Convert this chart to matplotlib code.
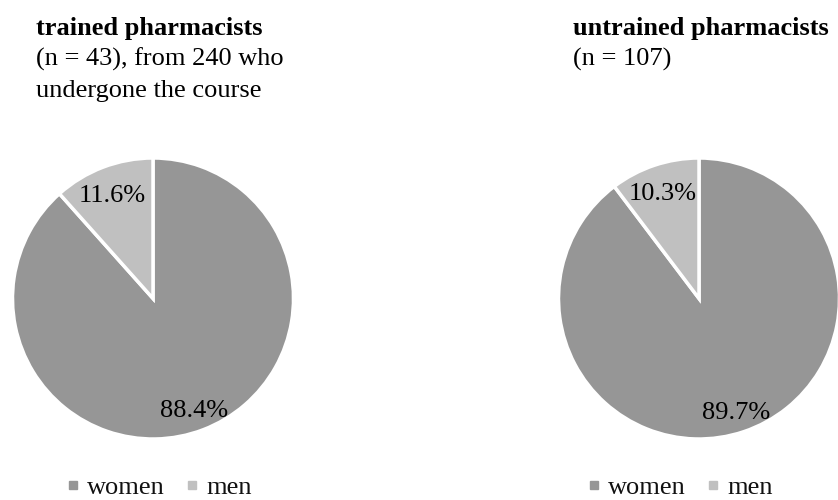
import matplotlib.pyplot as plt
from matplotlib.lines import Line2D

# data
categories = ["women", "men"]
trained_pct = [88.4, 11.6]
untrained_pct = [89.7, 10.3]
trained_title = "trained pharmacists"
trained_sub = ["(n = 43), from 240 who", "undergone the course"]
untrained_title = "untrained pharmacists"
untrained_sub = ["(n = 107)"]

colors = ["#969696", "#c0c0c0"]

W, H = 838, 500
plt.rcParams["font.family"] = ["Liberation Serif", "DejaVu Serif"]

fig = plt.figure(figsize=(W / 100, H / 100), dpi=100)


def px_axes(cx, cy, r):
    # axes box in pixel coordinates (origin top-left)
    return fig.add_axes([(cx - r) / W, 1 - (cy + r) / H, 2 * r / W, 2 * r / H])


def draw_pie(ax, values):
    wedges, _, autotexts = ax.pie(
        values, colors=colors, startangle=90, counterclock=False,
        autopct="%.1f%%", pctdistance=0.82, radius=1,
        wedgeprops=dict(edgecolor="white", linewidth=2.5),
        textprops=dict(fontsize=19, color="black"),
    )
    for t in autotexts:
        x, y = t.get_position()
        t.set_position((x, y - 0.035))
    ax.set_xlim(-1, 1)
    ax.set_ylim(-1, 1)
    ax.set_aspect("equal")
    for w in wedges:
        w.set_clip_on(False)
    return wedges


ax1 = px_axes(153, 298.5, 140.5)
draw_pie(ax1, trained_pct)
ax2 = px_axes(699, 298.5, 140.5)
draw_pie(ax2, untrained_pct)

# titles, placed by baseline
for x, title, sub in [(36, trained_title, trained_sub), (573, untrained_title, untrained_sub)]:
    fig.text(x / W, 1 - 35 / H, title, fontsize=19, fontweight="bold", va="baseline", ha="left")
    for i, line in enumerate(sub):
        fig.text(x / W, 1 - (66 + 31 * i) / H, line, fontsize=19, va="baseline", ha="left")

# legends
handles = [Line2D([], [], marker="s", linestyle="none", markersize=6,
                  markerfacecolor=c, markeredgecolor=c) for c in colors]
for cx in (160, 681):
    fig.legend(handles, categories, loc="center", bbox_to_anchor=(cx / W, 1 - 487 / H),
               ncol=2, frameon=False, fontsize=19, handlelength=0.3, handletextpad=0.38,
               columnspacing=0.9, labelcolor="#111111", borderpad=0, borderaxespad=0)

fig.savefig("out.png", dpi=100)
